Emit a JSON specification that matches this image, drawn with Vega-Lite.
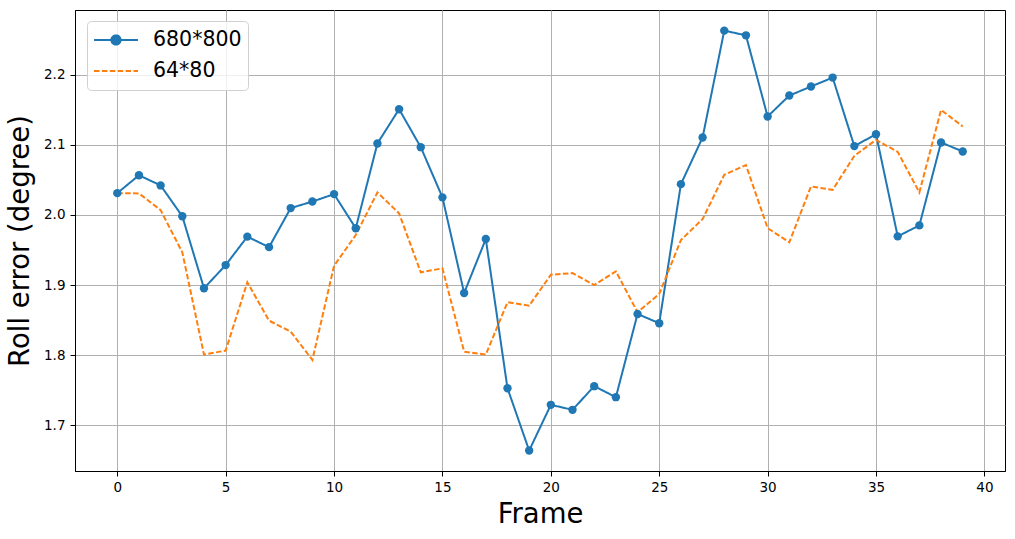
{
  "$schema": "https://vega.github.io/schema/vega-lite/v6.json",
  "width": 930,
  "height": 461,
  "autosize": {"type": "none"},
  "padding": {"left": 75, "top": 10, "right": 10, "bottom": 68},
  "background": "white",
  "config": {
    "font": "DejaVu Sans",
    "view": {"stroke": "black", "strokeWidth": 1},
    "axis": {
      "grid": true,
      "gridColor": "#b0b0b0",
      "gridWidth": 1,
      "domainColor": "black",
      "domainWidth": 1,
      "tickColor": "black",
      "tickSize": 5,
      "tickWidth": 1,
      "labelFontSize": 13.5,
      "labelColor": "black",
      "titleFontSize": 27.5,
      "titleFontWeight": "normal",
      "titleColor": "black"
    }
  },
  "data": {
    "values": [
      {"frame": 0, "series": "680*800", "value": 2.031},
      {"frame": 1, "series": "680*800", "value": 2.0565},
      {"frame": 2, "series": "680*800", "value": 2.042},
      {"frame": 3, "series": "680*800", "value": 1.998},
      {"frame": 4, "series": "680*800", "value": 1.8954},
      {"frame": 5, "series": "680*800", "value": 1.9285},
      {"frame": 6, "series": "680*800", "value": 1.969},
      {"frame": 7, "series": "680*800", "value": 1.954},
      {"frame": 8, "series": "680*800", "value": 2.0097},
      {"frame": 9, "series": "680*800", "value": 2.019},
      {"frame": 10, "series": "680*800", "value": 2.0296},
      {"frame": 11, "series": "680*800", "value": 1.981},
      {"frame": 12, "series": "680*800", "value": 2.1018},
      {"frame": 13, "series": "680*800", "value": 2.1506},
      {"frame": 14, "series": "680*800", "value": 2.0965},
      {"frame": 15, "series": "680*800", "value": 2.025},
      {"frame": 16, "series": "680*800", "value": 1.8887},
      {"frame": 17, "series": "680*800", "value": 1.9656},
      {"frame": 18, "series": "680*800", "value": 1.753},
      {"frame": 19, "series": "680*800", "value": 1.6642},
      {"frame": 20, "series": "680*800", "value": 1.7293},
      {"frame": 21, "series": "680*800", "value": 1.7222},
      {"frame": 22, "series": "680*800", "value": 1.7559},
      {"frame": 23, "series": "680*800", "value": 1.7402},
      {"frame": 24, "series": "680*800", "value": 1.8588},
      {"frame": 25, "series": "680*800", "value": 1.8456},
      {"frame": 26, "series": "680*800", "value": 2.0438},
      {"frame": 27, "series": "680*800", "value": 2.1103},
      {"frame": 28, "series": "680*800", "value": 2.2626},
      {"frame": 29, "series": "680*800", "value": 2.2559},
      {"frame": 30, "series": "680*800", "value": 2.1402},
      {"frame": 31, "series": "680*800", "value": 2.1701},
      {"frame": 32, "series": "680*800", "value": 2.1829},
      {"frame": 33, "series": "680*800", "value": 2.1957},
      {"frame": 34, "series": "680*800", "value": 2.098},
      {"frame": 35, "series": "680*800", "value": 2.115},
      {"frame": 36, "series": "680*800", "value": 1.9694},
      {"frame": 37, "series": "680*800", "value": 1.985},
      {"frame": 38, "series": "680*800", "value": 2.1032},
      {"frame": 39, "series": "680*800", "value": 2.0904},
      {"frame": 0, "series": "64*80", "value": 2.031},
      {"frame": 1, "series": "64*80", "value": 2.0306},
      {"frame": 2, "series": "64*80", "value": 2.0068},
      {"frame": 3, "series": "64*80", "value": 1.9466},
      {"frame": 4, "series": "64*80", "value": 1.8009},
      {"frame": 5, "series": "64*80", "value": 1.8066},
      {"frame": 6, "series": "64*80", "value": 1.904},
      {"frame": 7, "series": "64*80", "value": 1.8493},
      {"frame": 8, "series": "64*80", "value": 1.8336},
      {"frame": 9, "series": "64*80", "value": 1.7933},
      {"frame": 10, "series": "64*80", "value": 1.9275},
      {"frame": 11, "series": "64*80", "value": 1.9713},
      {"frame": 12, "series": "64*80", "value": 2.032},
      {"frame": 13, "series": "64*80", "value": 2.0021},
      {"frame": 14, "series": "64*80", "value": 1.9182},
      {"frame": 15, "series": "64*80", "value": 1.9238},
      {"frame": 16, "series": "64*80", "value": 1.8051},
      {"frame": 17, "series": "64*80", "value": 1.8009},
      {"frame": 18, "series": "64*80", "value": 1.8755},
      {"frame": 19, "series": "64*80", "value": 1.8706},
      {"frame": 20, "series": "64*80", "value": 1.9147},
      {"frame": 21, "series": "64*80", "value": 1.9171},
      {"frame": 22, "series": "64*80", "value": 1.9},
      {"frame": 23, "series": "64*80", "value": 1.9196},
      {"frame": 24, "series": "64*80", "value": 1.8612},
      {"frame": 25, "series": "64*80", "value": 1.8873},
      {"frame": 26, "series": "64*80", "value": 1.9641},
      {"frame": 27, "series": "64*80", "value": 1.994},
      {"frame": 28, "series": "64*80", "value": 2.0571},
      {"frame": 29, "series": "64*80", "value": 2.0709},
      {"frame": 30, "series": "64*80", "value": 1.9812},
      {"frame": 31, "series": "64*80", "value": 1.9609},
      {"frame": 32, "series": "64*80", "value": 2.0406},
      {"frame": 33, "series": "64*80", "value": 2.0357},
      {"frame": 34, "series": "64*80", "value": 2.0841},
      {"frame": 35, "series": "64*80", "value": 2.1069},
      {"frame": 36, "series": "64*80", "value": 2.0898},
      {"frame": 37, "series": "64*80", "value": 2.032},
      {"frame": 38, "series": "64*80", "value": 2.1496},
      {"frame": 39, "series": "64*80", "value": 2.126}
    ]
  },
  "encoding": {
    "x": {
      "field": "frame",
      "type": "quantitative",
      "title": "Frame",
      "scale": {"domain": [-1.95, 40.95], "nice": false, "zero": false},
      "axis": {"values": [0, 5, 10, 15, 20, 25, 30, 35, 40], "format": "d", "labelPadding": 4, "titlePadding": 7}
    },
    "y": {
      "field": "value",
      "type": "quantitative",
      "title": "Roll error (degree)",
      "scale": {"domain": [1.635, 2.292], "nice": false, "zero": false},
      "axis": {"values": [1.7, 1.8, 1.9, 2.0, 2.1, 2.2], "format": ".1f", "labelPadding": 5, "titlePadding": 9}
    }
  },
  "layer": [
    {
      "mark": {"type": "line", "strokeWidth": 2},
      "encoding": {
        "color": {
          "field": "series",
          "type": "nominal",
          "scale": {"domain": ["680*800", "64*80"], "range": ["#1f77b4", "#ff7f0e"]},
          "legend": {
            "title": null,
            "orient": "none",
            "legendX": 12,
            "legendY": 11,
            "symbolType": "stroke",
            "symbolSize": 1936,
            "symbolStrokeWidth": 2,
            "labelFontSize": 20.5,
            "labelColor": "black",
            "labelOffset": 14,
            "clipHeight": 26,
            "rowPadding": 5,
            "padding": 6,
            "strokeColor": "#d0d0d0",
            "fillColor": "rgba(255,255,255,0.8)",
            "cornerRadius": 4,
            "encode": {
              "symbols": {
                "update": {
                  "shape": {"signal": "datum.value === '680*800' ? 'M-1,0L1,0M-0.21,0A0.21,0.21 0 1,0 0.21,0A0.21,0.21 0 1,0 -0.21,0Z' : 'M-1,0L1,0'"},
                  "fill": {"signal": "datum.value === '680*800' ? '#1f77b4' : 'transparent'"}
                }
              }
            }
          }
        },
        "strokeDash": {
          "field": "series",
          "type": "nominal",
          "scale": {"domain": ["680*800", "64*80"], "range": [[1, 0], [5.5, 2.4]]},
          "legend": null
        }
      }
    },
    {
      "transform": [{"filter": "datum.series === '680*800'"}],
      "mark": {"type": "point", "filled": true, "opacity": 1, "size": 70, "color": "#1f77b4"}
    }
  ]
}
